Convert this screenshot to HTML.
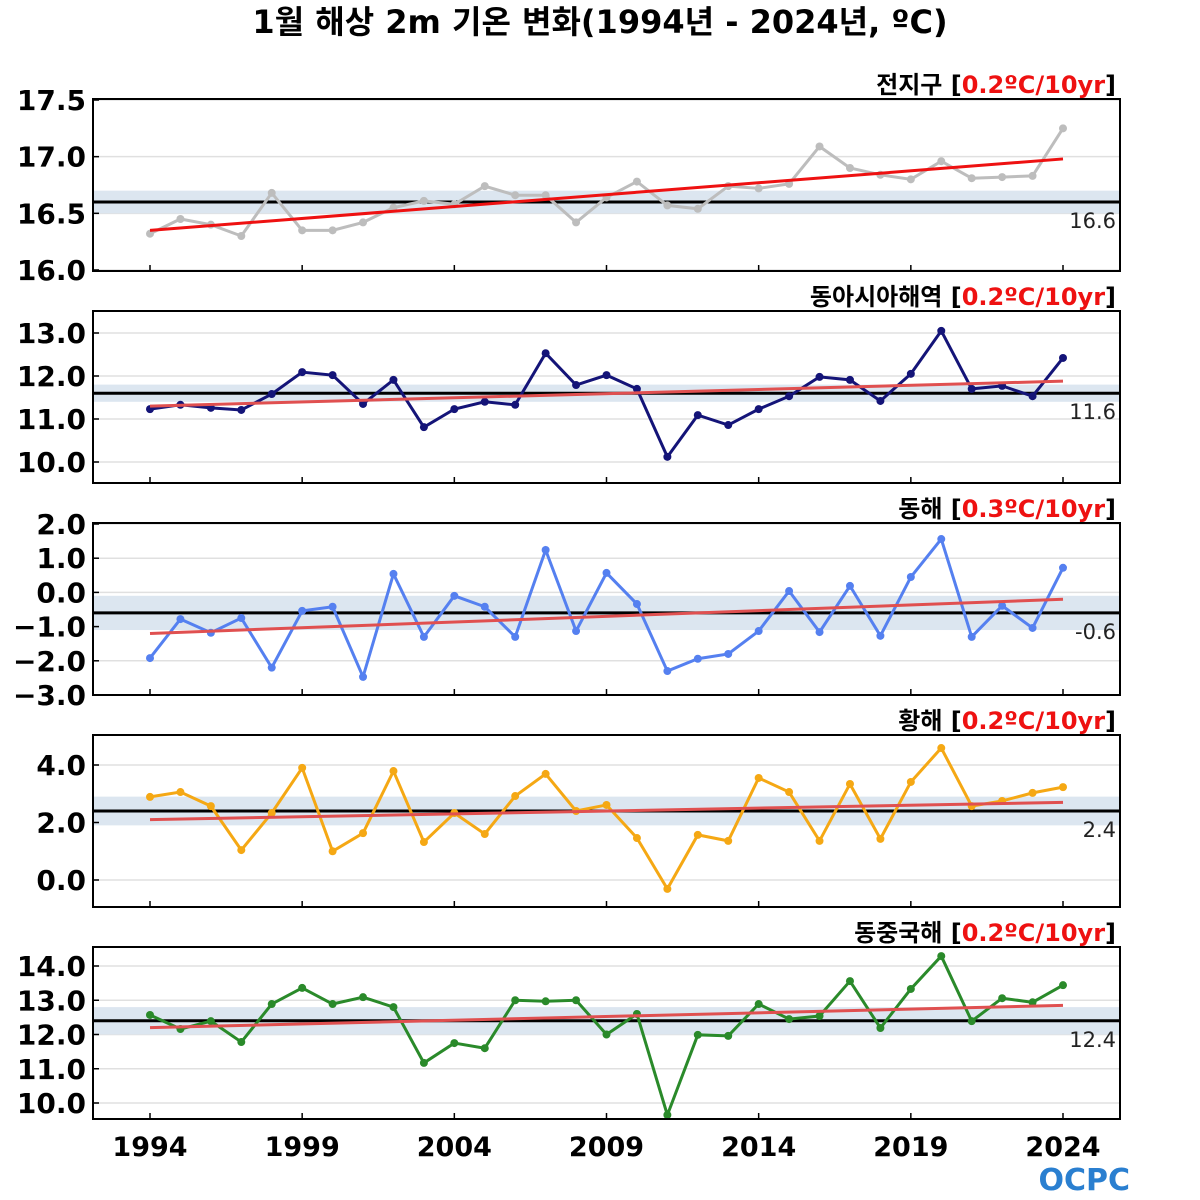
<!DOCTYPE html>
<html><head><meta charset="utf-8"><style>
body{margin:0;background:#fff;}
svg{display:block;font-family:"DejaVu Sans","Noto Sans CJK KR",sans-serif;}
</style></head><body>
<svg id="c" width="1200" height="1200" viewBox="0 0 1200 1200" xmlns="http://www.w3.org/2000/svg">
<text x="600" y="33" text-anchor="middle" font-size="32" font-weight="bold" fill="#000">1월 해상 2m 기온 변화(1994년 - 2024년, ºC)</text>
<text x="1130" y="1190" text-anchor="end" font-size="30" font-weight="bold" fill="#2a7fd0">OCPC</text>
</svg>
<script>
const years=[1994,1995,1996,1997,1998,1999,2000,2001,2002,2003,2004,2005,2006,2007,2008,2009,2010,2011,2012,2013,2014,2015,2016,2017,2018,2019,2020,2021,2022,2023,2024];
const xTicks=[1994,1999,2004,2009,2014,2019,2024];
const global=[16.32,16.45,16.40,16.30,16.68,16.35,16.35,16.42,16.55,16.61,16.58,16.74,16.66,16.66,16.42,16.64,16.78,16.57,16.54,16.74,16.72,16.76,17.09,16.90,16.84,16.80,16.96,16.81,16.82,16.83,17.25];
const eastAsia=[11.23,11.33,11.26,11.21,11.58,12.09,12.02,11.35,11.91,10.81,11.23,11.40,11.33,12.53,11.79,12.02,11.70,10.12,11.09,10.86,11.23,11.53,11.98,11.91,11.42,12.05,13.05,11.70,11.77,11.53,12.42];
const eastSea=[-1.92,-0.78,-1.18,-0.75,-2.2,-0.54,-0.42,-2.47,0.54,-1.30,-0.1,-0.42,-1.30,1.24,-1.13,0.57,-0.34,-2.30,-1.94,-1.80,-1.13,0.04,-1.16,0.19,-1.27,0.45,1.56,-1.30,-0.39,-1.04,0.72];
const yellowSea=[2.89,3.06,2.57,1.04,2.33,3.9,1.0,1.63,3.79,1.32,2.33,1.6,2.92,3.69,2.40,2.61,1.46,-0.31,1.57,1.36,3.55,3.06,1.36,3.34,1.43,3.41,4.59,2.57,2.75,3.03,3.23];
const ecSea=[12.57,12.16,12.39,11.78,12.89,13.36,12.89,13.09,12.80,11.17,11.75,11.6,13.0,12.97,13.0,12.0,12.6,9.65,11.99,11.96,12.89,12.45,12.54,13.56,12.19,13.33,14.29,12.39,13.06,12.94,13.44];
const names=["전지구","동아시아해역","동해","황해","동중국해"];
const slugs=["global","east-asia","east-sea","yellow-sea","east-china-sea"];
const trendLabels=["0.2","0.2","0.3","0.2","0.2"];
const means=[16.6,11.6,-0.6,2.4,12.4];
const bands=[0.1,0.2,0.5,0.5,0.4];
const trendStart=[16.35,11.3,-1.2,2.1,12.2];
const trendEnd=[16.98,11.88,-0.2,2.7,12.85];
const yTicks=[[16.0,16.5,17.0,17.5],[10.0,11.0,12.0,13.0],[-3.0,-2.0,-1.0,0.0,1.0,2.0],[0.0,2.0,4.0],[10.0,11.0,12.0,13.0,14.0]];
const series=[global,eastAsia,eastSea,yellowSea,ecSea];
const colors=["#bdbdbd","#141478","#5580f0","#f5a814","#2a8a2a"];
// pixel layout (not data)
const L=93,R=1120,panelTop=[99,311,523,735,947],panelH=172;
const yRef=[[16.0,270,17.5,100],[10.0,462,13.0,333],[-3.0,695,2.0,524],[0.0,880,4.0,765],[10.0,1103,14.0,966]];
const svg=document.getElementById('c');
const NS="http://www.w3.org/2000/svg";
function mk(tag,attrs,parent){const e=document.createElementNS(NS,tag);for(const k in attrs)e.setAttribute(k,attrs[k]);(parent||svg).appendChild(e);return e;}
const xs=y=>150+(y-1994)*(1063-150)/30;
for(let p=0;p<5;p++){
  const [v0,p0,v1,p1]=yRef[p];
  const ys=v=>p0+(v-v0)*(p1-p0)/(v1-v0);
  const g=mk('g',{});
  
  
  const top=panelTop[p],bot=top+panelH;
  const cp=mk('clipPath',{id:'cp'+p},g);mk('rect',{x:L,y:top,width:R-L,height:panelH},cp);
  const inner=mk('g',{'clip-path':'url(#cp'+p+')'},g);
  yTicks[p].forEach(t=>{
    const gl=mk('line',{x1:L,x2:R,y1:ys(t),y2:ys(t),stroke:'#e0e0e0','stroke-width':1.5},inner);
    
    mk('line',{x1:L,x2:L+6,y1:ys(t),y2:ys(t),stroke:'#000','stroke-width':1.5},g);
    const tl=mk('text',{x:86,y:ys(t)+10,'text-anchor':'end','font-size':28,'font-weight':'bold'},g);
    tl.textContent=(t<0?'−':'')+Math.abs(t).toFixed(1);
    
  });
  const band=mk('rect',{x:L,y:ys(means[p]+bands[p]),width:R-L,height:ys(means[p]-bands[p])-ys(means[p]+bands[p]),fill:'#dce6f0'},inner);
  
  const ml=mk('line',{x1:L,x2:R,y1:ys(means[p]),y2:ys(means[p]),stroke:'#000','stroke-width':3},inner);
  
  const mt=mk('text',{x:1116,y:ys(means[p])+26,'text-anchor':'end','font-size':21,fill:'#222'},g);
  mt.textContent=means[p].toFixed(1);
  
  const d=series[p].map((v,i)=>(i?'L':'M')+xs(years[i])+','+ys(v)).join(' ');
  const ln=mk('path',{d:d,fill:'none',stroke:colors[p],'stroke-width':3},inner);
  
  series[p].forEach((v,i)=>{const c=mk('circle',{cx:xs(years[i]),cy:ys(v),r:4,fill:colors[p]},inner);
    });
  const tr=mk('line',{x1:xs(1994),x2:xs(2024),y1:ys(trendStart[p]),y2:ys(trendEnd[p]),stroke:p==0?'#ee1111':'#e05050','stroke-width':3},inner);
  
  xTicks.forEach(y=>mk('line',{x1:xs(y),x2:xs(y),y1:bot-6,y2:bot,stroke:'#000','stroke-width':1.5},g));
  const fr=mk('rect',{x:L,y:top,width:R-L,height:panelH,fill:'none',stroke:'#000','stroke-width':2},g);
  
  const tt=mk('text',{x:1116,y:top-6,'text-anchor':'end','font-size':24,'font-weight':'bold'},g);
  tt.innerHTML=names[p]+' [<tspan fill="#ee1111">'+trendLabels[p]+'ºC/10yr</tspan>]';
  
}
xTicks.forEach(y=>{const t=mk('text',{x:xs(y),y:1156,'text-anchor':'middle','font-size':27,'font-weight':'bold'});
  t.textContent=y;});
</script>
</body></html>
